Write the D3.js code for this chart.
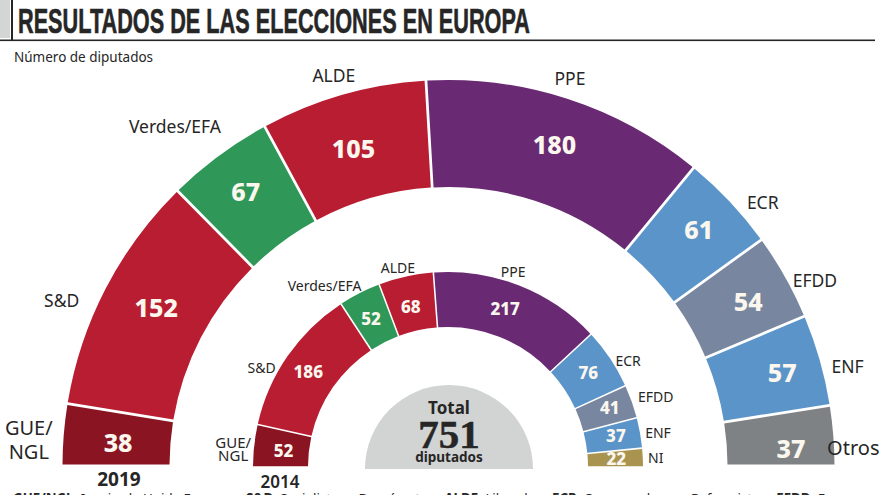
<!DOCTYPE html>
<html lang="es">
<head>
<meta charset="utf-8">
<title>Resultados de las elecciones en Europa</title>
<script src="https://cdn.jsdelivr.net/npm/d3@7"></script>
<style>
  html, body { margin: 0; padding: 0; background: #fff; overflow: hidden; }
  svg { display: block; }
  text { font-family: "Noto Sans", "Open Sans", sans-serif; fill: #262626; }
  .value { font-weight: 800; fill: #fbf7ee; text-anchor: middle; dominant-baseline: central; }
  .name { text-anchor: middle; dominant-baseline: central; }
</style>
</head>
<body>
<svg id="chart" width="880" height="495"></svg>
<script>
// Datos
const parties2019 = ["GUE/NGL", "S&D", "Verdes/EFA", "ALDE", "PPE", "ECR", "EFDD", "ENF", "Otros"];
const seats2019 = [38, 152, 67, 105, 180, 61, 54, 57, 37];
const parties2014 = ["GUE/NGL", "S&D", "Verdes/EFA", "ALDE", "PPE", "ECR", "EFDD", "ENF", "NI"];
const seats2014 = [52, 186, 52, 68, 217, 76, 41, 37, 22];
const totalSeats = 751;

const partyColors = {
  "GUE/NGL": "#8a1422",
  "S&D": "#b91d31",
  "Verdes/EFA": "#2f9758",
  "ALDE": "#b91d31",
  "PPE": "#6a2a73",
  "ECR": "#5b94c8",
  "EFDD": "#78879f",
  "ENF": "#5b94c8",
  "Otros": "#7f8284",
  "NI": "#a9944f"
};

// Ajustes a mano de las etiquetas, en pixeles desde el punto calculado
const big = {
  cx: 448.5, cy: 466, inner: 279, outer: 386, pad: 0.0058, valueSize: 25, nameSize: 17.5, endNameSize: 20, lineGap: 24,
  valueNudge: [[1, 3], [3, -6], [-5, -8], [-4, 2], [3, -6], [8, -9], [10, -2], [14, -3], [11, 8]],
  nameNudge: [[-35, 4], [-44, 11], [-44, -30], [-9, -20], [2, -21], [33, 0], [30, 3], [28, 6], [20, 12]]
};
const small = {
  cx: 448, cy: 467, inner: 140, outer: 195, pad: 0.0065, valueSize: 17, nameSize: 14, endNameSize: 15, lineGap: 13,
  valueNudge: [[2, 2], [-2, 0], [-1, 1], [-1, 3], [-4, -3], [1, -1], [4, -3], [3, -2], [1, 0]],
  nameNudge: [[-21, 3], [-26, 11], [-35, -8], [-8, -9], [-6, -14], [18, 2], [24, -5], [18, 0], [13, 0]]
};

const svg = d3.select("#chart");

// Cabecera
svg.append("rect").attr("x", 0).attr("y", 0).attr("width", 10).attr("height", 38).attr("fill", "#d4d6d6");
svg.append("rect").attr("x", 11).attr("y", 0).attr("width", 2).attr("height", 40).attr("fill", "#262626");
svg.append("rect").attr("x", 0).attr("y", 39.5).attr("width", 875).attr("height", 1.6).attr("fill", "#262626");
svg.append("text")
  .attr("x", 18).attr("y", 33)
  .attr("textLength", 512).attr("lengthAdjust", "spacingAndGlyphs")
  .attr("stroke", "#262626").attr("stroke-width", 0.6)
  .style("font-family", "'Liberation Sans Narrow', 'Liberation Sans', sans-serif")
  .style("font-weight", 700).style("font-size", "35px")
  .text("RESULTADOS DE LAS ELECCIONES EN EUROPA");
svg.append("text")
  .attr("x", 14).attr("y", 62)
  .style("font-size", "13.5px")
  .text("Número de diputados");

function drawHemicycle(names, values, cfg) {
  const pie = d3.pie().sort(null).startAngle(-Math.PI / 2).endAngle(Math.PI / 2).padAngle(cfg.pad);
  const arcs = pie(values);
  const arc = d3.arc().innerRadius(cfg.inner).outerRadius(cfg.outer);
  const edge = d3.arc().innerRadius(cfg.outer).outerRadius(cfg.outer);
  const g = svg.append("g").attr("transform", `translate(${cfg.cx},${cfg.cy})`);

  g.selectAll("path")
    .data(arcs)
    .enter()
    .append("path")
    .attr("d", arc)
    .attr("fill", (d, i) => partyColors[names[i]]);

  g.selectAll("text.value")
    .data(arcs)
    .enter()
    .append("text")
    .attr("class", "value")
    .attr("x", (d, i) => arc.centroid(d)[0] + cfg.valueNudge[i][0])
    .attr("y", (d, i) => arc.centroid(d)[1] + cfg.valueNudge[i][1])
    .style("font-size", `${cfg.valueSize}px`)
    .text((d) => d.value);

  const labels = g.selectAll("text.name")
    .data(arcs)
    .enter()
    .append("text")
    .attr("class", "name")
    .attr("x", (d, i) => edge.centroid(d)[0] + cfg.nameNudge[i][0])
    .attr("y", (d, i) => edge.centroid(d)[1] + cfg.nameNudge[i][1])
    .style("font-size", (d, i) => `${i === 0 || names[i] === "Otros" ? cfg.endNameSize : cfg.nameSize}px`);

  // GUE/NGL va en dos lineas
  labels.each(function (d, i) {
    const el = d3.select(this);
    const x = el.attr("x");
    if (names[i] === "GUE/NGL") {
      el.append("tspan").attr("x", x).attr("dy", -cfg.lineGap / 2).text("GUE/");
      el.append("tspan").attr("x", x).attr("dy", cfg.lineGap).text("NGL");
    } else {
      el.text(names[i]);
    }
  });
}

drawHemicycle(parties2019, seats2019, big);
drawHemicycle(parties2014, seats2014, small);

// Semicirculo del total
const totalGroup = svg.append("g").attr("transform", "translate(449,469)");
totalGroup.append("path")
  .attr("d", d3.arc().innerRadius(0).outerRadius(84).startAngle(-Math.PI / 2).endAngle(Math.PI / 2)())
  .attr("fill", "#d2d3d3");
totalGroup.append("text").attr("text-anchor", "middle").attr("y", -55)
  .style("font-weight", 700).style("font-size", "17px").text("Total");
totalGroup.append("text").attr("text-anchor", "middle").attr("y", -21)
  .attr("stroke", "#262626").attr("stroke-width", 0.5)
  .style("font-family", "'Liberation Serif', serif").style("font-weight", 700).style("font-size", "41px")
  .text(totalSeats);
totalGroup.append("text").attr("text-anchor", "middle").attr("y", -7)
  .style("font-weight", 700).style("font-size", "13.5px").text("diputados");

// Años
svg.append("text").attr("x", 119).attr("y", 486).attr("text-anchor", "middle")
  .style("font-weight", 700).style("font-size", "19px").text("2019");
svg.append("text").attr("x", 280).attr("y", 488).attr("text-anchor", "middle")
  .style("font-weight", 600).style("font-size", "17px").text("2014");

// Pie de la grafica, cortado por abajo como en el original
const foot = svg.append("text").attr("x", 13).attr("y", 503).style("font-size", "13.3px");
[
  ["GUE/NGL:", " Izquierda Unida Europea.  "],
  ["S&D:", " Socialistas y Demócratas.  "],
  ["ALDE:", " Liberales.  "],
  ["ECR:", " Conservadores y Reformistas.  "],
  ["EFDD:", " E"]
].forEach(([key, desc]) => {
  foot.append("tspan").style("font-weight", 700).text(key);
  foot.append("tspan").attr("xml:space", "preserve").text(desc);
});
</script>
</body>
</html>
